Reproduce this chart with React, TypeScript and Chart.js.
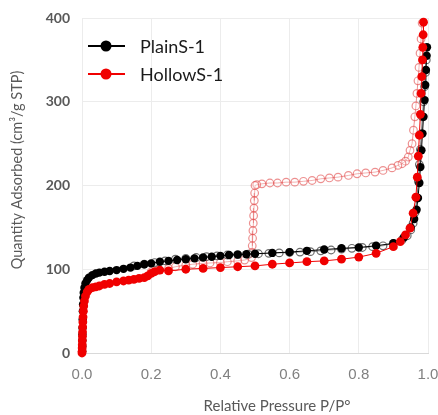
import React, { useEffect, useRef } from "react";
import { Chart, registerables } from "chart.js";

Chart.register(...registerables);

// PlainS-1 adsorption (filled black)
const plainAdsX = [0.0005, 0.0008, 0.001, 0.0012, 0.0015, 0.002, 0.0025, 0.003, 0.004, 0.005, 0.007, 0.01, 0.015, 0.02, 0.03, 0.04, 0.05, 0.065, 0.08, 0.1, 0.12, 0.14, 0.16, 0.18, 0.2, 0.225, 0.25, 0.275, 0.3, 0.325, 0.35, 0.375, 0.4, 0.425, 0.45, 0.475, 0.5, 0.55, 0.6, 0.65, 0.7, 0.75, 0.8, 0.85, 0.9, 0.93, 0.95, 0.96, 0.967, 0.971, 0.975, 0.978, 0.981, 0.984, 0.987, 0.99, 0.992, 0.994, 0.996, 0.997];
const plainAdsY = [2, 8, 15, 22, 30, 40, 50, 58, 66, 72, 78, 83, 87, 90, 93, 95, 96, 97, 98, 99, 100.5, 102, 104, 106, 107, 109, 110, 111, 112, 113, 114, 115, 116, 117, 117.5, 118, 118.5, 119.5, 120.5, 122, 123.5, 125, 126, 128, 131, 138, 150, 160, 171, 185, 203, 222, 242, 262, 282, 302, 320, 338, 355, 365];

// PlainS-1 desorption (hollow black)
const plainDesX = [0.995, 0.993, 0.99, 0.987, 0.984, 0.981, 0.978, 0.975, 0.972, 0.968, 0.963, 0.957, 0.95, 0.94, 0.925, 0.9, 0.87, 0.84, 0.81, 0.78, 0.75, 0.72, 0.69, 0.66, 0.63, 0.6, 0.57, 0.54, 0.51, 0.48, 0.45, 0.42, 0.39, 0.36, 0.33, 0.3, 0.27, 0.24, 0.21, 0.18, 0.15];
const plainDesY = [350, 335, 318, 300, 282, 262, 243, 225, 205, 185, 168, 155, 147, 140, 135, 131, 128, 127, 126, 125, 124, 123, 122, 121, 120.5, 120, 119.5, 119, 118.5, 118, 117.5, 117, 116, 115, 114, 113, 112, 110, 108, 106, 104];

// HollowS-1 adsorption (filled red)
const hollowAdsX = [0, 0.0003, 0.0005, 0.0007, 0.001, 0.0013, 0.0016, 0.002, 0.0025, 0.003, 0.004, 0.005, 0.007, 0.01, 0.015, 0.02, 0.03, 0.04, 0.05, 0.065, 0.08, 0.1, 0.12, 0.135, 0.15, 0.165, 0.18, 0.19, 0.2, 0.21, 0.225, 0.25, 0.3, 0.35, 0.4, 0.45, 0.5, 0.55, 0.6, 0.65, 0.7, 0.75, 0.8, 0.85, 0.9, 0.92, 0.935, 0.948, 0.957, 0.965, 0.969, 0.972, 0.975, 0.978, 0.98, 0.982, 0.984, 0.985, 0.986, 0.987];
const hollowAdsY = [0, 2, 6, 10, 15, 20, 25, 31, 37, 43, 50, 56, 62, 68, 73, 76, 78, 79, 80, 82, 83, 85, 86, 87, 88, 89, 90, 92, 95, 97, 99, 98, 100, 101, 102, 103, 104, 106, 107.5, 109, 110, 112, 114.5, 119, 127, 133, 141, 149, 167, 186, 210, 235, 260, 285, 310, 330, 350, 365, 380, 395];

// HollowS-1 desorption (hollow red)
const hollowDesX = [0.983, 0.98, 0.977, 0.974, 0.971, 0.968, 0.965, 0.962, 0.958, 0.954, 0.948, 0.943, 0.935, 0.925, 0.913, 0.896, 0.87, 0.847, 0.82, 0.795, 0.77, 0.74, 0.715, 0.69, 0.665, 0.64, 0.615, 0.59, 0.565, 0.543, 0.52, 0.505, 0.5, 0.499, 0.498, 0.497, 0.496, 0.495, 0.494, 0.493, 0.492, 0.491, 0.49, 0.47, 0.45, 0.42, 0.4, 0.37, 0.35, 0.32, 0.3, 0.27, 0.25, 0.22, 0.2];
const hollowDesY = [394, 375, 358, 341, 325, 310, 295, 282, 266, 250, 242, 234, 229, 226, 224, 221, 218, 216, 215, 214, 212, 210, 209, 208, 206, 205, 204, 204, 203, 203, 202, 201, 200, 191, 182, 173, 164, 155, 146, 137, 128, 120, 114, 111, 110, 109, 108, 107.5, 107, 106, 105, 103, 101, 99, 97];

const seriesNames = ["PlainS-1", "HollowS-1"];
const xTickValues = [0, 0.2, 0.4, 0.6, 0.8, 1.0];
const yTickValues = [0, 100, 200, 300, 400];
const xTitle = "Relative Pressure P/P°";
const yTitle = "Quantity Adsorbed (cm³/g STP)";

const zip = (xs: number[], ys: number[]) => xs.map((x, i) => ({ x, y: ys[i] }));

const BLACK = "#000000";
const RED = "#f00000";
const PINK = "rgba(225,70,70,0.6)";
const GREYRING = "rgba(60,60,60,0.75)";

const overlayPlugin = {
  id: "overlay",
  afterDraw(chart: any) {
    const ctx = chart.ctx;
    const area = chart.chartArea;
    ctx.save();
    const items = [
      { name: seriesNames[0], color: BLACK, y: 46 },
      { name: seriesNames[1], color: RED, y: 74 },
    ];
    items.forEach((it) => {
      ctx.strokeStyle = it.color;
      ctx.lineWidth = 2;
      ctx.beginPath();
      ctx.moveTo(area.left + 6, it.y);
      ctx.lineTo(area.left + 43, it.y);
      ctx.stroke();
      ctx.fillStyle = it.color;
      ctx.beginPath();
      ctx.arc(area.left + 24, it.y, 5.5, 0, Math.PI * 2);
      ctx.fill();
      ctx.fillStyle = "#1a1a1a";
      ctx.font = "18px Lato";
      ctx.textAlign = "left";
      ctx.textBaseline = "middle";
      ctx.fillText(it.name, area.left + 58, it.y + 1);
    });
    ctx.fillStyle = "#595959";
    ctx.font = "15px Lato";
    ctx.textAlign = "center";
    ctx.textBaseline = "middle";
    ctx.fillText(xTitle, 277, 406);
    ctx.translate(17, 170);
    ctx.rotate(-Math.PI / 2);
    ctx.font = "14.5px Lato";
    ctx.fillText(yTitle, 0, 0);
    ctx.restore();
  },
};

export default function App() {
  const ref = useRef<HTMLCanvasElement | null>(null);
  useEffect(() => {
    if (!ref.current) return;
    const chart = new Chart(ref.current, {
      type: "line",
      data: {
        datasets: [
          {
            label: seriesNames[1] + " ads",
            data: zip(hollowAdsX, hollowAdsY),
            borderColor: RED,
            backgroundColor: RED,
            pointBackgroundColor: RED,
            pointBorderColor: RED,
            pointRadius: 4.4,
            pointBorderWidth: 0,
            borderWidth: 1,
            clip: 10,
            order: 0,
          },
          {
            label: seriesNames[0] + " ads",
            data: zip(plainAdsX, plainAdsY),
            borderColor: BLACK,
            backgroundColor: BLACK,
            pointBackgroundColor: BLACK,
            pointBorderColor: BLACK,
            pointRadius: 4.2,
            pointBorderWidth: 0,
            borderWidth: 1,
            clip: 10,
            order: 1,
          },
          {
            label: seriesNames[0] + " des",
            data: zip(plainDesX, plainDesY),
            borderColor: GREYRING,
            backgroundColor: "rgba(255,255,255,0.3)",
            pointBackgroundColor: "rgba(255,255,255,0.4)",
            pointBorderColor: GREYRING,
            pointRadius: 3.8,
            pointBorderWidth: 1.2,
            borderWidth: 1,
            clip: 10,
            order: 2,
          },
          {
            label: seriesNames[1] + " des",
            data: zip(hollowDesX, hollowDesY),
            borderColor: PINK,
            backgroundColor: "rgba(255,255,255,0.3)",
            pointBackgroundColor: "rgba(255,255,255,0.3)",
            pointBorderColor: PINK,
            pointRadius: 3.8,
            pointBorderWidth: 1.2,
            borderWidth: 1,
            clip: 10,
            order: 3,
          },
        ],
      },
      options: {
        animation: false,
        responsive: false,
        maintainAspectRatio: false,
        layout: { padding: { top: 18, right: 10, left: 0, bottom: 0 } },
        plugins: { legend: { display: false }, tooltip: { enabled: false } },
        elements: { line: { tension: 0 } },
        scales: {
          x: {
            type: "linear",
            min: 0,
            max: 1,
            afterBuildTicks: (scale: any) => {
              scale.ticks = xTickValues.map((v) => ({ value: v }));
            },
            ticks: {
              color: "#808080",
              font: { family: "Liberation Sans", size: 15 },
              padding: 13,
              callback: (v: any) => Number(v).toFixed(1),
              maxRotation: 0,
            },
            grid: { color: "#ececec", drawTicks: false, lineWidth: 1 },
            border: { color: "#d9d9d9", width: 1 },
            afterFit: (scale: any) => {
              scale.height = 62;
              scale.paddingLeft = 0;
              scale.paddingRight = 0;
            },
          },
          y: {
            type: "linear",
            min: 0,
            max: 400,
            afterBuildTicks: (scale: any) => {
              scale.ticks = yTickValues.map((v) => ({ value: v }));
            },
            ticks: {
              color: "#595959",
              font: { family: "Lato", size: 14, weight: "bold" },
              padding: 12,
            },
            grid: { color: "#ececec", drawTicks: false, lineWidth: 1 },
            border: { color: "#ececec", width: 1 },
            afterFit: (scale: any) => {
              scale.width = 82;
              scale.paddingTop = 0;
              scale.paddingBottom = 0;
            },
          },
        },
      },
      plugins: [overlayPlugin],
    } as any);
    return () => chart.destroy();
  }, []);
  return (
    <div style={{ position: "fixed", left: 0, top: 0, width: 438, height: 415, background: "#fff" }}>
      <canvas ref={ref} width={438} height={415} style={{ display: "block", width: 438, height: 415 }} />
    </div>
  );
}
